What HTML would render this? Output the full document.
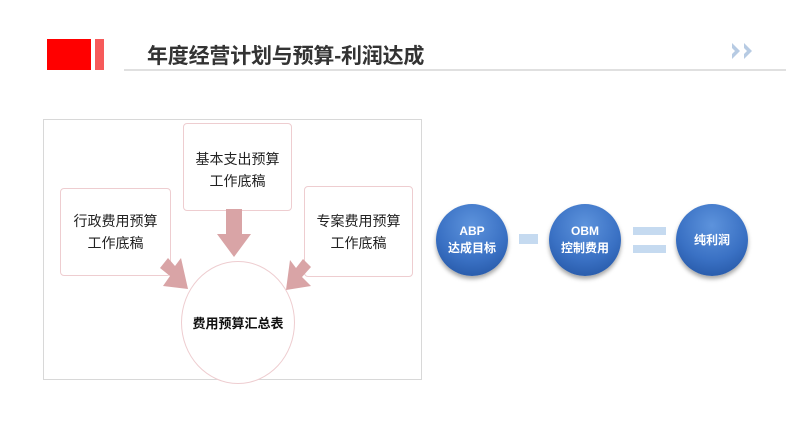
<!DOCTYPE html>
<html><head><meta charset="utf-8"><style>
body{margin:0;width:800px;height:447px;background:#fff;position:relative;overflow:hidden;font-family:"Liberation Sans","Noto Sans CJK SC",sans-serif}
.a{position:absolute}
.box{position:absolute;border:1px solid #eecdd0;border-radius:4px;background:#fff;display:flex;align-items:center;justify-content:center;text-align:center;font-size:14px;line-height:22px;color:#222}
.c{position:absolute;border-radius:50%;background:radial-gradient(circle at 50% 30%,#5d93dc 0%,#3a71c4 55%,#1f4f9c 100%);box-shadow:0 3px 4px rgba(0,0,0,.35);color:#fff;font-weight:bold;font-size:12px;line-height:17px;display:flex;align-items:center;justify-content:center;text-align:center}
</style></head><body>
<div class="a" style="left:47px;top:39px;width:44px;height:31px;background:#ff0000"></div>
<div class="a" style="left:95px;top:39px;width:9px;height:31px;background:#f65a5a"></div>
<div class="a" style="left:147px;top:43px;font-size:21px;font-weight:bold;color:#333;line-height:28px;letter-spacing:-0.2px">年度经营计划与预算-利润达成</div>
<div class="a" style="left:124px;top:69px;width:662px;height:2px;background:#e0e0e0"></div>
<svg class="a" style="left:730px;top:42px" width="28" height="18"><path d="M2 1 L10 9 L2 17 L2 12 L5 9 L2 6Z M14 1 L22 9 L14 17 L14 12 L17 9 L14 6Z" fill="#b7cbe3"/></svg>
<div class="a" style="left:43px;top:119px;width:377px;height:259px;border:1px solid #d8d8d8"></div>
<div class="box" style="left:60px;top:188px;width:109px;height:86px">行政费用预算<br>工作底稿</div>
<div class="box" style="left:183px;top:123px;width:107px;height:86px;align-items:flex-start"><div style="margin-top:24px">基本支出预算<br>工作底稿</div></div>
<div class="box" style="left:304px;top:186px;width:107px;height:89px">专案费用预算<br>工作底稿</div>
<div class="a" style="left:181px;top:261px;width:112px;height:121px;border:1px solid #eecdd0;border-radius:50%;background:#fff;display:flex;align-items:center;justify-content:center;font-size:13px;font-weight:bold;color:#111">费用预算汇总表</div>
<svg class="a" style="left:0;top:0" width="800" height="447">
<g fill="#d9a4a6">
<path d="M226 209 L242 209 L242 234 L251 234 L234 257 L217 234 L226 234Z"/>
<path d="M160 268 L168 258 L175 266 L181 258 L188 289 L163 286 L170 276Z"/>
<path d="M311 267 L303 259 L296 268 L290 260 L286 290 L311 286 L302 277Z"/>
</g>
<rect x="519" y="234" width="19" height="10" fill="#c5daf0"/>
<rect x="633" y="227" width="33" height="8" fill="#c5daf0"/>
<rect x="633" y="245" width="33" height="8" fill="#c5daf0"/>
</svg>
<div class="c" style="left:436px;top:204px;width:72px;height:72px">ABP<br>达成目标</div>
<div class="c" style="left:549px;top:204px;width:72px;height:72px">OBM<br>控制费用</div>
<div class="c" style="left:676px;top:204px;width:72px;height:72px">纯利润</div>
</body></html>
